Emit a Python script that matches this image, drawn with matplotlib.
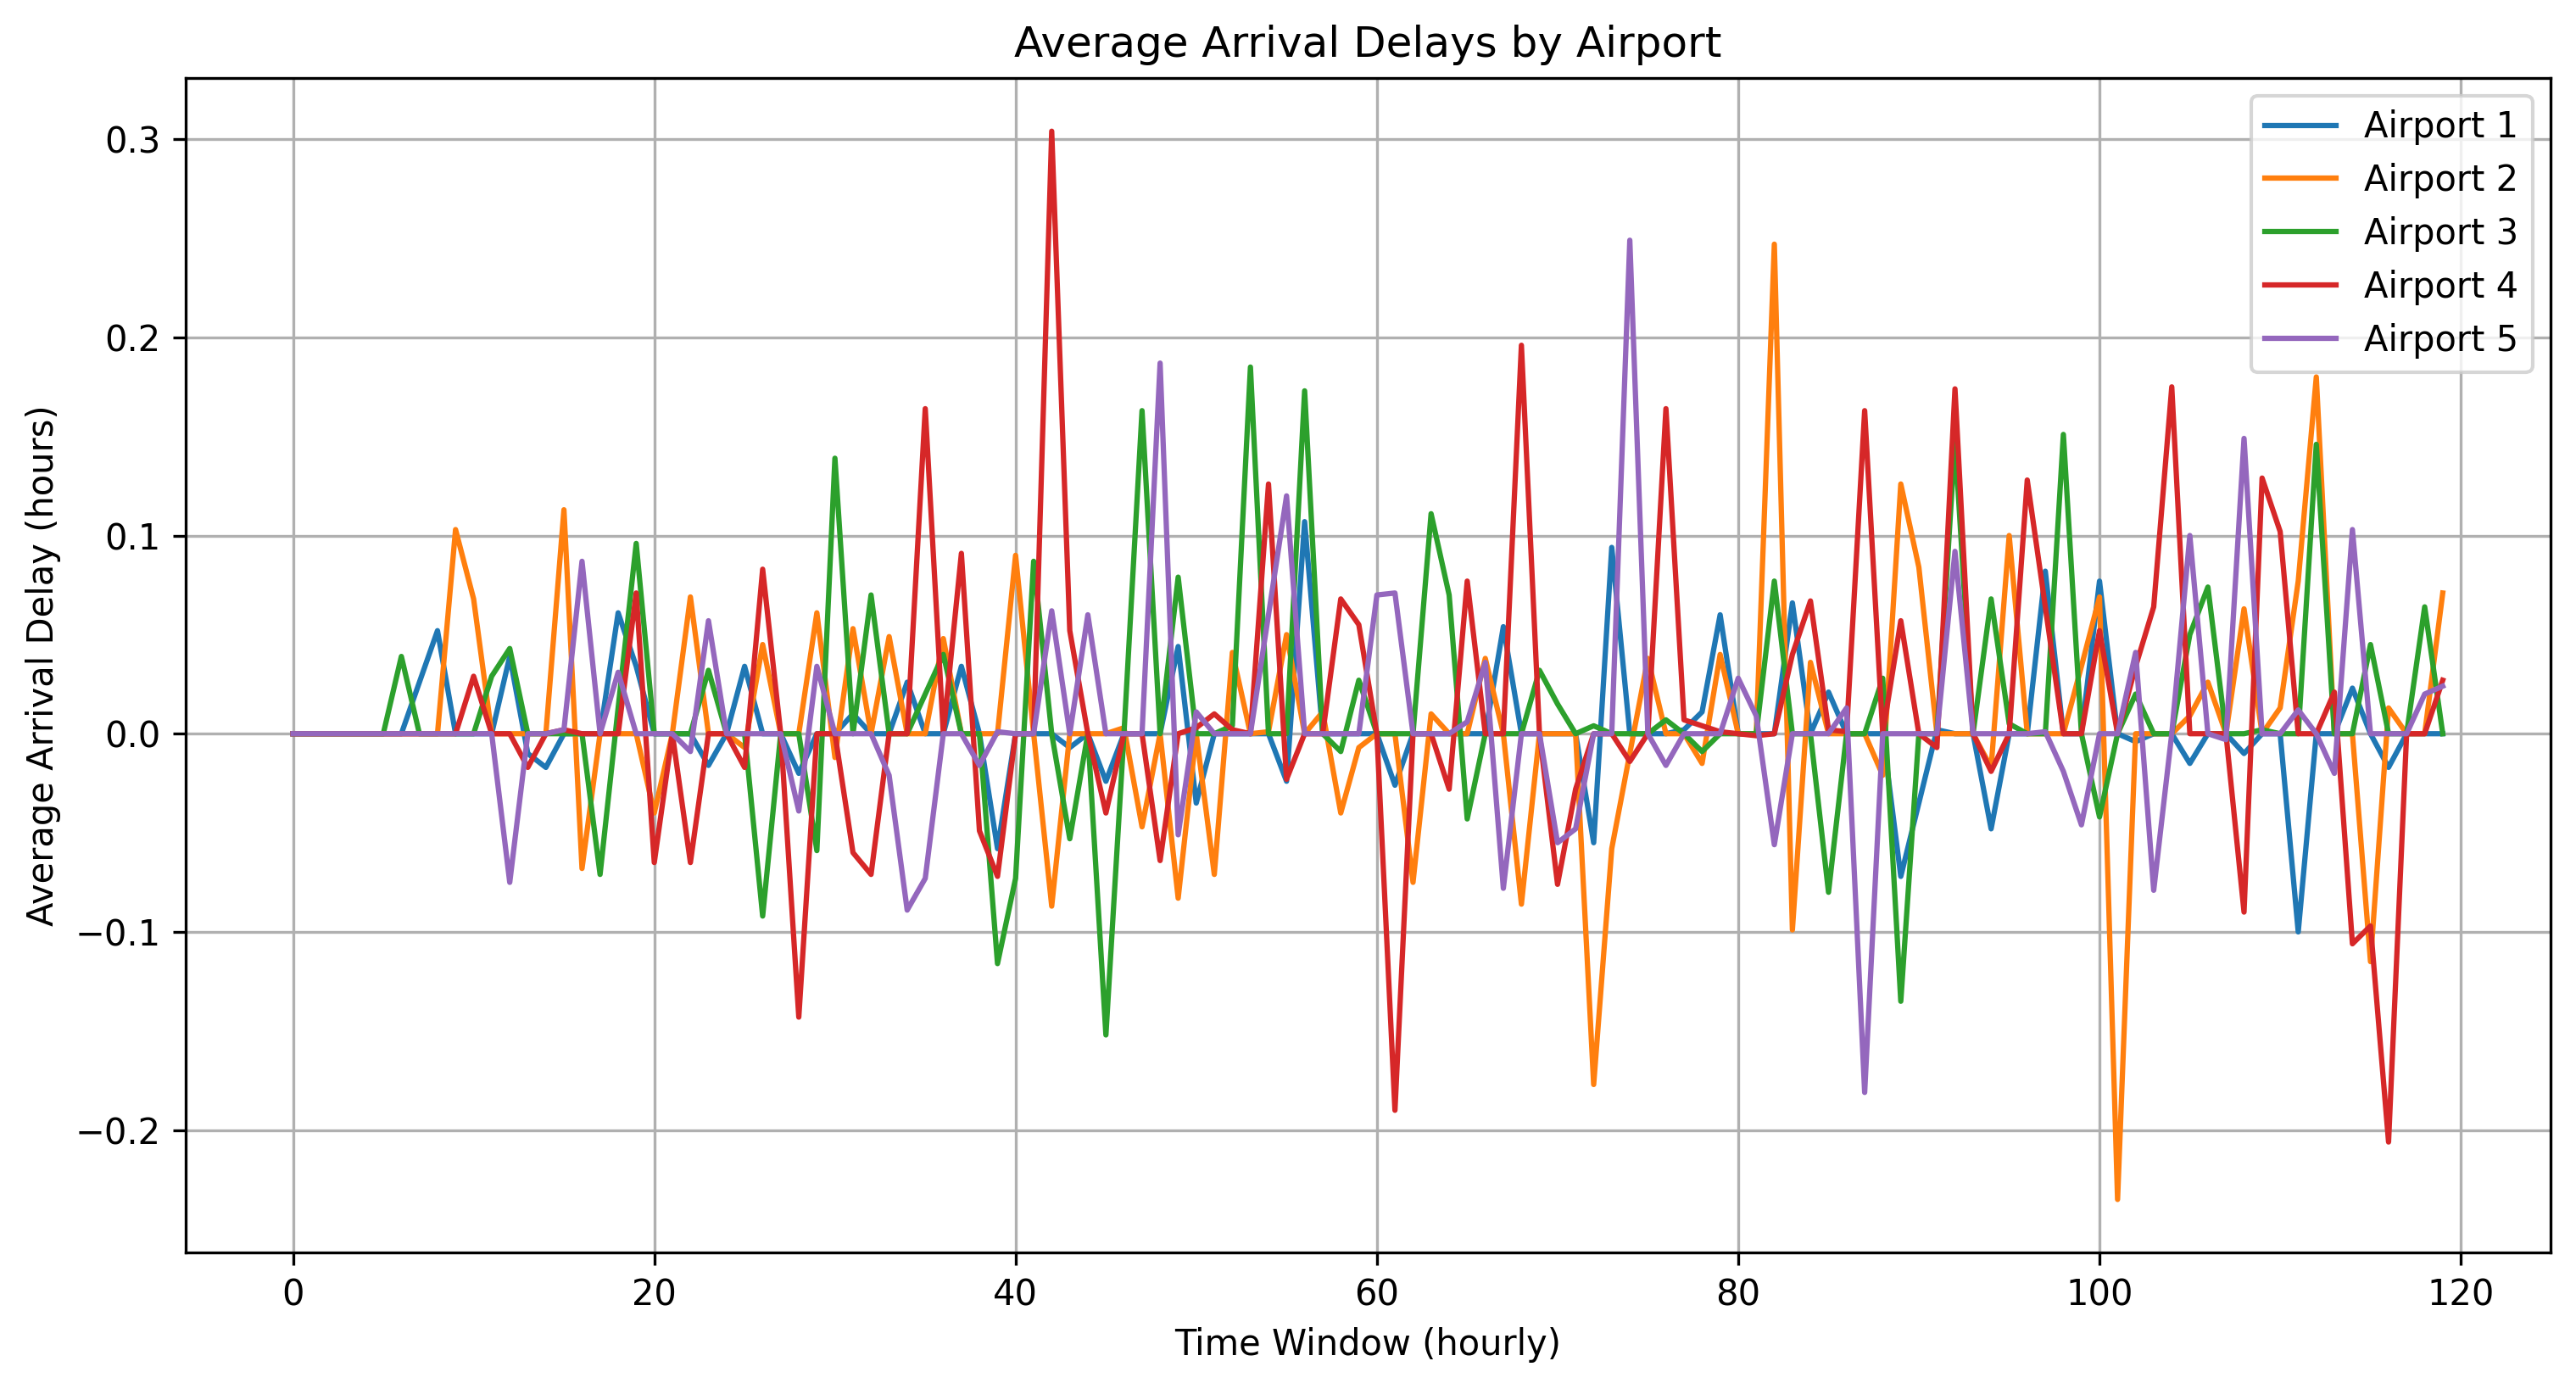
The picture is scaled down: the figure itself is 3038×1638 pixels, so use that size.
import matplotlib.pyplot as plt

# часы (временные окна)
hours = list(range(120))

airport_1 = [
    0, 0, 0, 0, 0, 0, 0, 0.026, 0.052, 0,
    0, 0, 0.039, -0.010, -0.017, 0, 0, 0, 0.061, 0.034,
    0, 0, 0, -0.016, 0, 0.034, 0, 0, -0.020, 0,
    0, 0.010, 0, 0, 0.026, 0, 0, 0.034, 0, -0.058,
    0, 0, 0, -0.007, 0, -0.024, 0, 0, 0, 0.044,
    -0.035, 0, 0, 0, 0, -0.024, 0.107, 0, 0, 0,
    0, -0.026, 0, 0, 0, 0, 0, 0.054, 0, 0,
    0, 0, -0.055, 0.094, 0, 0, 0, 0.002, 0.011, 0.060,
    0, 0, 0, 0.066, 0, 0.021, 0, 0, 0, -0.072,
    -0.035, 0.002, 0, 0, -0.048, 0, 0, 0.082, 0, 0,
    0.077, 0, -0.004, 0, 0, -0.015, 0, 0, -0.010, 0,
    0, -0.100, 0, 0, 0.023, 0, -0.017, 0, 0, 0,
]

airport_2 = [
    0, 0, 0, 0, 0, 0, 0, 0, 0, 0.103,
    0.068, 0, 0, 0, 0, 0.113, -0.068, 0, 0, 0,
    -0.040, 0, 0.069, 0, 0, -0.007, 0.045, 0, 0, 0.061,
    -0.012, 0.053, 0, 0.049, 0, 0, 0.048, 0, 0, 0,
    0.090, 0, -0.087, 0, 0, 0, 0.003, -0.047, 0, -0.083,
    0, -0.071, 0.041, 0, 0.001, 0.050, 0, 0.011, -0.040, -0.007,
    0, 0, -0.075, 0.010, 0, 0, 0.038, 0, -0.086, 0,
    0, 0, -0.177, -0.058, -0.010, 0.038, 0, 0, -0.015, 0.040,
    0, 0, 0.247, -0.099, 0.036, 0, 0, 0, -0.021, 0.126,
    0.084, 0, 0, 0, -0.017, 0.100, 0, 0, 0, 0.034,
    0.069, -0.235, 0, 0, 0, 0.009, 0.026, 0, 0.063, 0,
    0.013, 0.077, 0.180, 0, 0, -0.115, 0.013, 0, 0, 0.071,
]

airport_3 = [
    0, 0, 0, 0, 0, 0, 0.039, 0, 0, 0,
    0, 0.029, 0.043, 0, 0, 0, 0, -0.071, 0.013, 0.096,
    0, 0, 0, 0.032, 0, 0, -0.092, 0, 0, -0.059,
    0.139, 0, 0.070, 0, 0, 0.020, 0.040, 0, 0, -0.116,
    -0.073, 0.087, 0, -0.053, 0, -0.152, 0, 0.163, 0, 0.079,
    0, 0, 0.004, 0.185, 0, 0, 0.173, 0, -0.009, 0.027,
    0, 0, 0, 0.111, 0.070, -0.043, 0, 0, 0, 0.032,
    0.015, 0, 0.004, 0, 0, 0, 0.007, 0, -0.009, 0,
    0, 0, 0.077, 0, 0, -0.080, 0, 0, 0.028, -0.135,
    0, 0, 0.148, 0, 0.068, 0.005, 0, 0, 0.151, 0,
    -0.042, 0, 0.020, 0, 0, 0.050, 0.074, 0, 0, 0.002,
    0, 0, 0.146, 0, 0, 0.045, 0, 0, 0.064, 0,
]

airport_4 = [
    0, 0, 0, 0, 0, 0, 0, 0, 0, 0,
    0.029, 0, 0, -0.017, 0, 0.002, 0, 0, 0, 0.071,
    -0.065, 0, -0.065, 0, 0, -0.017, 0.083, 0, -0.143, 0,
    0, -0.060, -0.071, 0, 0, 0.164, 0, 0.091, -0.049, -0.072,
    0, 0, 0.304, 0.052, 0, -0.040, 0, 0, -0.064, 0,
    0.003, 0.010, 0.002, 0, 0.126, -0.023, 0, 0, 0.068, 0.055,
    0, -0.190, 0, 0, -0.028, 0.077, 0, 0, 0.196, 0,
    -0.076, -0.028, 0, 0, -0.014, 0, 0.164, 0.007, 0.004, 0.001,
    0, -0.001, 0, 0.040, 0.067, 0.002, 0.001, 0.163, 0, 0.057,
    0, -0.007, 0.174, 0, -0.019, 0, 0.128, 0.064, 0, 0,
    0.052, 0, 0.034, 0.064, 0.175, 0, 0, 0, -0.090, 0.129,
    0.102, 0, 0, 0.021, -0.106, -0.097, -0.206, 0, 0, 0.027,
]

airport_5 = [
    0, 0, 0, 0, 0, 0, 0, 0, 0, 0,
    0, 0, -0.075, 0, 0, 0.002, 0.087, 0, 0.031, 0,
    0, 0, -0.009, 0.057, 0, 0, 0, 0, -0.039, 0.034,
    0, 0, 0, -0.021, -0.089, -0.073, 0, 0, -0.016, 0.001,
    0, 0, 0.062, 0, 0.060, 0, 0, 0, 0.187, -0.051,
    0.011, 0, 0, 0, 0.060, 0.120, 0, 0, 0, 0,
    0.070, 0.071, 0, 0, 0, 0.006, 0.036, -0.078, 0, 0,
    -0.055, -0.048, 0, 0, 0.249, 0, -0.016, 0, 0, 0,
    0.028, 0.009, -0.056, 0, 0, 0, 0.013, -0.181, 0, 0,
    0, 0, 0.092, 0, 0, 0, 0, 0.001, -0.019, -0.046,
    0, 0, 0.041, -0.079, 0, 0.100, 0, -0.003, 0.149, 0,
    0, 0.012, 0, -0.020, 0.103, 0, 0, 0, 0.020, 0.024,
]

series = [airport_1, airport_2, airport_3, airport_4, airport_5]
labels = ["Airport 1", "Airport 2", "Airport 3", "Airport 4", "Airport 5"]

fig = plt.figure(figsize=(3038 / 300, 1638 / 300), dpi=300)
ax = fig.add_subplot(111)

for values, label in zip(series, labels):
    ax.plot(hours, values, label=label)

ax.set_title("Average Arrival Delays by Airport")
ax.set_xlabel("Time Window (hourly)")
ax.set_ylabel("Average Arrival Delay (hours)")
ax.legend(loc="upper right")
ax.grid(True)

fig.subplots_adjust(left=0.072, right=0.990, top=0.944, bottom=0.098)
fig.savefig("out.png", dpi=300)
